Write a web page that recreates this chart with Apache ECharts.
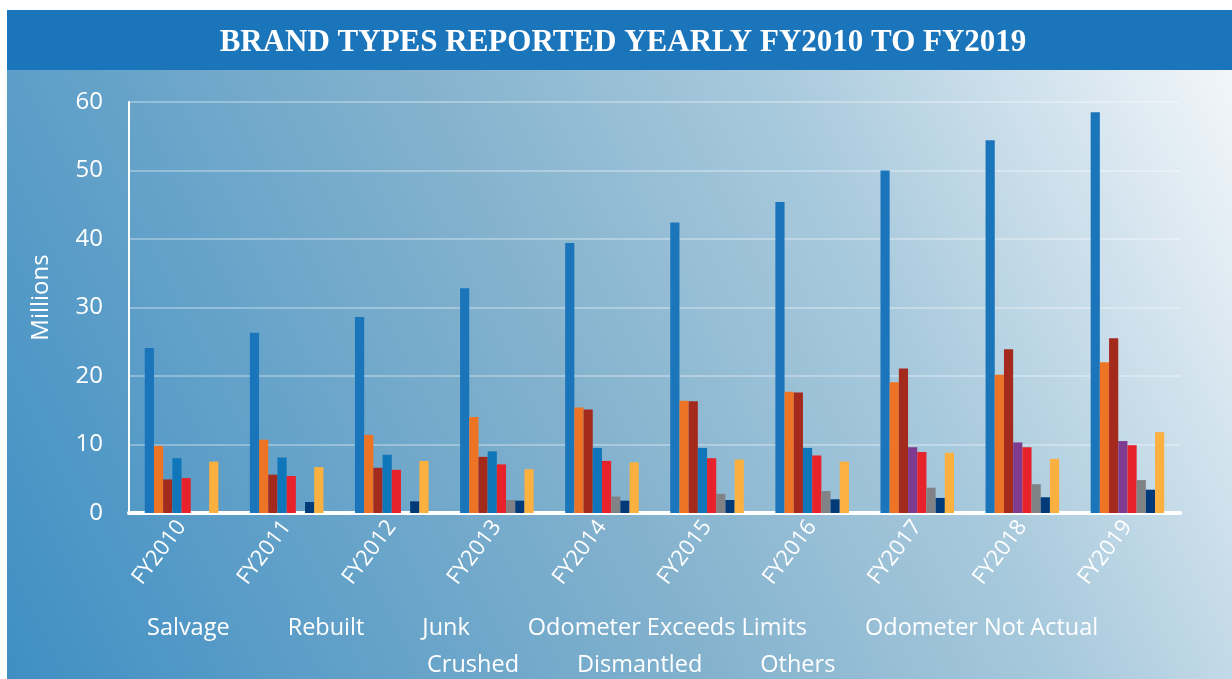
<!DOCTYPE html>
<html>
<head>
<meta charset="utf-8">
<script src="https://cdn.jsdelivr.net/npm/echarts@6/dist/echarts.min.js"></script>
<style>
html,body{margin:0;padding:0;background:#fff;}
#chart{width:1232px;height:679px;}
</style>
</head>
<body>
<div id="chart"></div>
<script>
const titleText = 'BRAND TYPES REPORTED YEARLY FY2010 TO FY2019';
const categories = ['FY2010','FY2011','FY2012','FY2013','FY2014','FY2015','FY2016','FY2017','FY2018','FY2019'];
const seriesNames = ['Salvage','Rebuilt','Junk','Odometer Exceeds Limits','Odometer Not Actual','Crushed','Dismantled','Others'];
const salvage      = [24.1, 26.3, 28.6, 32.8, 39.4, 42.4, 45.4, 50.0, 54.4, 58.5];
const rebuilt      = [9.8, 10.7, 11.4, 14.0, 15.4, 16.4, 17.7, 19.1, 20.2, 22.0];
const junk         = [4.9, 5.6, 6.6, 8.2, 15.1, 16.3, 17.6, 21.1, 23.9, 25.5];
const odoExceeds   = [8.0, 8.1, 8.5, 9.0, 9.5, 9.5, 9.5, 9.6, 10.3, 10.5];
const odoNotActual = [5.1, 5.4, 6.3, 7.1, 7.6, 8.0, 8.4, 8.9, 9.6, 9.9];
const crushed      = [0, 0, 0, 1.9, 2.4, 2.8, 3.2, 3.7, 4.2, 4.8];
const dismantled   = [0, 1.6, 1.7, 1.8, 1.8, 1.9, 2.0, 2.2, 2.3, 3.4];
const others       = [7.5, 6.7, 7.6, 6.4, 7.4, 7.8, 7.5, 8.8, 7.9, 11.8];
const yTicks = [0, 10, 20, 30, 40, 50, 60];

const colors = ['#1b75bb','#ec7424','#a52a1e','#0f76b9','#e8222a','#808285','#003a78','#fbb040'];
const odoAltColor = '#7e3b8f';
const odoAltFrom = 7; // FY2017 onward drawn purple in reference
const values = [salvage, rebuilt, junk, odoExceeds, odoNotActual, crushed, dismantled, others];

const font = '"Open Sans", "Noto Sans", sans-serif';

const series = seriesNames.map((name, i) => ({
  name: name,
  type: 'bar',
  barGap: '0%',
  barCategoryGap: '30%',
  itemStyle: { color: colors[i] },
  data: values[i].map((v, j) => (i === 3 && j >= odoAltFrom) ? { value: v, itemStyle: { color: odoAltColor } } : v)
}));

const chart = echarts.init(document.getElementById('chart'), null, { renderer: 'canvas' });
chart.setOption({
  backgroundColor: '#ffffff',
  animation: false,
  graphic: [
    {
      type: 'rect', z: -10, silent: true,
      shape: { x: 7, y: 70, width: 1225, height: 609 },
      style: {
        fill: new echarts.graphic.LinearGradient(0, 1, 1, 0, [
          { offset: 0, color: '#3f8fc4' },
          { offset: 0.45, color: '#82b1cd' },
          { offset: 0.7, color: '#a9cadd' },
          { offset: 1, color: '#f2f6fa' }
        ])
      }
    },
    {
      type: 'rect', z: -10, silent: true,
      shape: { x: 7, y: 10, width: 1225, height: 60 },
      style: { fill: '#1b75bb' }
    }
  ],
  title: {
    text: titleText,
    left: 618, top: 22, textAlign: 'center',
    textStyle: { color: '#ffffff', fontFamily: '"Liberation Serif", serif', fontWeight: 'bold', fontSize: 31 }
  },
  legend: [
    {
      data: seriesNames.slice(0, 5),
      left: 137, top: 611,
      itemWidth: 0, itemHeight: 0, itemGap: 53,
      selectedMode: false,
      textStyle: { color: '#ffffff', fontFamily: font, fontSize: 23.5 }
    },
    {
      data: seriesNames.slice(5),
      left: 417, top: 648,
      itemWidth: 0, itemHeight: 0, itemGap: 53,
      selectedMode: false,
      textStyle: { color: '#ffffff', fontFamily: font, fontSize: 23.5 }
    }
  ],
  grid: { left: 129, right: 52, top: 102, bottom: 166, containLabel: false },
  xAxis: {
    type: 'category',
    data: categories,
    axisLine: { show: true, lineStyle: { color: '#ffffff', width: 4 } },
    axisTick: { show: false },
    axisLabel: { color: '#ffffff', rotate: 53, fontSize: 22, fontFamily: font, margin: 10 },
    splitLine: { show: false }
  },
  yAxis: {
    type: 'value',
    min: yTicks[0], max: yTicks[yTicks.length - 1], interval: 10,
    name: 'Millions',
    nameLocation: 'middle',
    nameRotate: 90,
    nameGap: 76,
    nameTextStyle: { color: '#ffffff', fontSize: 24, fontFamily: font, padding: [0, 0, 0, 20] },
    axisLine: { show: true, lineStyle: { color: '#ffffff', width: 2 } },
    axisTick: { show: false },
    axisLabel: { color: '#ffffff', fontSize: 24, fontFamily: font, margin: 26 },
    splitLine: { show: true, lineStyle: { color: 'rgba(255,255,255,0.3)', width: 2 } }
  },
  series: series
});
</script>
</body>
</html>
